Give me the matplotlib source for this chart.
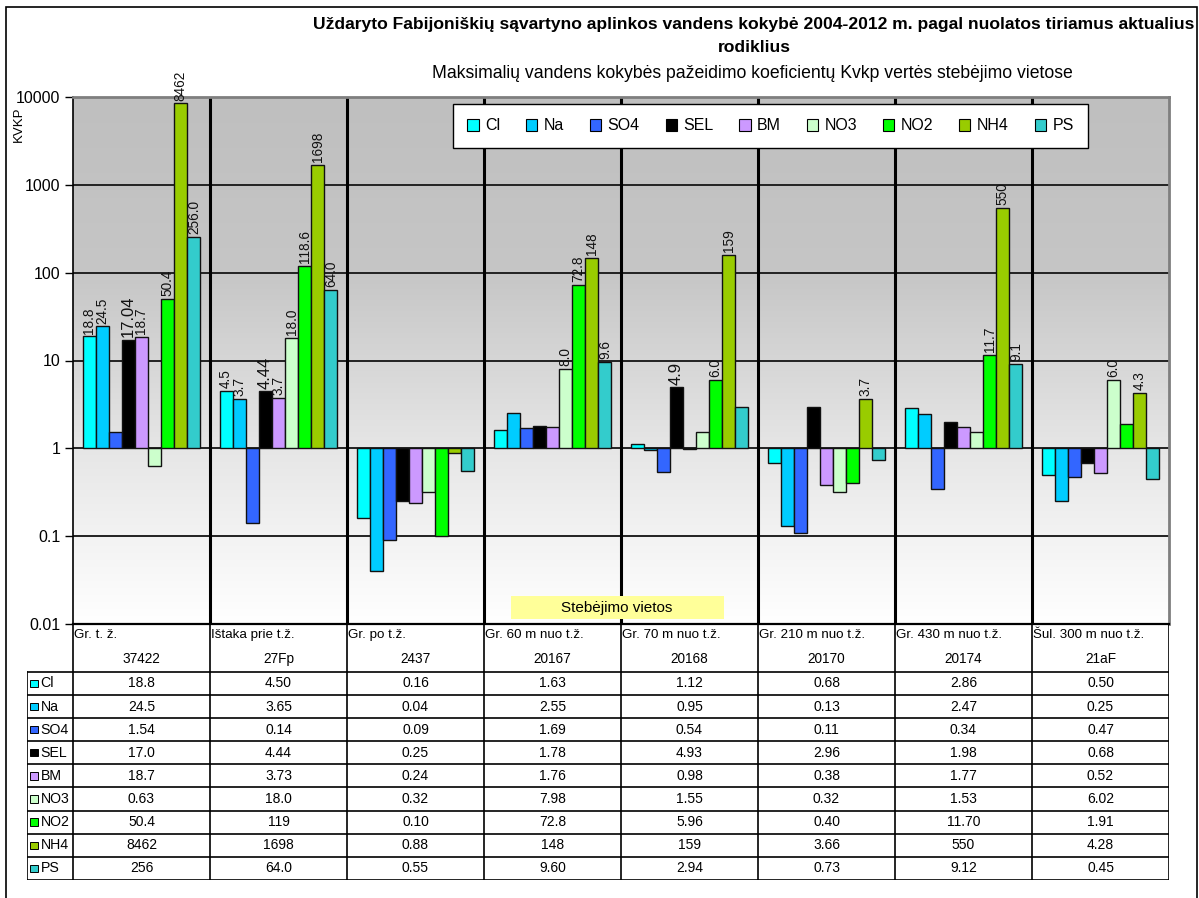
import numpy as np
import matplotlib
matplotlib.use('Agg')
import matplotlib.pyplot as plt
import matplotlib.patches as patches
from matplotlib.colors import LinearSegmentedColormap
from matplotlib.ticker import FixedLocator, FixedFormatter

plt.rcParams['font.family'] = ['Liberation Sans', 'DejaVu Sans']

# ---------------- data ----------------
sites = ['Gr. t. ž.', 'Ištaka prie t.ž.', 'Gr. po t.ž.', 'Gr. 60 m nuo t.ž.',
         'Gr. 70 m nuo t.ž.', 'Gr. 210 m nuo t.ž.', 'Gr. 430 m nuo t.ž.',
         'Šul. 300 m nuo t.ž.']
codes = ['37422', '27Fp', '2437', '20167', '20168', '20170', '20174', '21aF']
series = ['Cl', 'Na', 'SO4', 'SEL', 'BM', 'NO3', 'NO2', 'NH4', 'PS']
colors = ['#00FFFF', '#00CCFF', '#3366FF', '#000000', '#CC99FF',
          '#CCFFCC', '#00FF00', '#99CC00', '#33CCCC']

cl  = [18.8, 4.50, 0.16, 1.63, 1.12, 0.68, 2.86, 0.50]
na  = [24.5, 3.65, 0.04, 2.55, 0.95, 0.13, 2.47, 0.25]
so4 = [1.54, 0.14, 0.09, 1.69, 0.54, 0.11, 0.34, 0.47]
sel = [17.04, 4.44, 0.25, 1.78, 4.93, 2.96, 1.98, 0.68]
bm  = [18.7, 3.73, 0.24, 1.76, 0.98, 0.38, 1.77, 0.52]
no3 = [0.63, 18.0, 0.32, 7.98, 1.55, 0.32, 1.53, 6.02]
no2 = [50.4, 118.6, 0.10, 72.8, 5.96, 0.40, 11.70, 1.91]
nh4 = [8462, 1698, 0.88, 148, 159, 3.66, 550, 4.28]
ps  = [256, 64.0, 0.55, 9.60, 2.94, 0.73, 9.12, 0.45]
values = [cl, na, so4, sel, bm, no3, no2, nh4, ps]

# text shown in the data table
tab_cl  = ['18.8', '4.50', '0.16', '1.63', '1.12', '0.68', '2.86', '0.50']
tab_na  = ['24.5', '3.65', '0.04', '2.55', '0.95', '0.13', '2.47', '0.25']
tab_so4 = ['1.54', '0.14', '0.09', '1.69', '0.54', '0.11', '0.34', '0.47']
tab_sel = ['17.0', '4.44', '0.25', '1.78', '4.93', '2.96', '1.98', '0.68']
tab_bm  = ['18.7', '3.73', '0.24', '1.76', '0.98', '0.38', '1.77', '0.52']
tab_no3 = ['0.63', '18.0', '0.32', '7.98', '1.55', '0.32', '1.53', '6.02']
tab_no2 = ['50.4', '119', '0.10', '72.8', '5.96', '0.40', '11.70', '1.91']
tab_nh4 = ['8462', '1698', '0.88', '148', '159', '3.66', '550', '4.28']
tab_ps  = ['256', '64.0', '0.55', '9.60', '2.94', '0.73', '9.12', '0.45']
table_text = [tab_cl, tab_na, tab_so4, tab_sel, tab_bm, tab_no3, tab_no2, tab_nh4, tab_ps]

# data labels written over some of the bars
lab_cl  = ['18.8', '4.5', None, None, None, None, None, None]
lab_na  = ['24.5', '3.7', None, None, None, None, None, None]
lab_so4 = [None] * 8
lab_sel = ['17.04', '4.44', None, None, '4.9', None, None, None]
lab_bm  = ['18.7', '3.7', None, None, None, None, None, None]
lab_no3 = [None, '18.0', None, '8.0', None, None, None, '6.0']
lab_no2 = ['50.4', '118.6', None, '72.8', '6.0', None, '11.7', None]
lab_nh4 = ['8462', '1698', None, '148', '159', '3.7', '550', '4.3']
lab_ps  = ['256.0', '64.0', None, '9.6', None, None, '9.1', None]
bar_labels = [lab_cl, lab_na, lab_so4, lab_sel, lab_bm, lab_no3, lab_no2, lab_nh4, lab_ps]

yticks = [0.01, 0.1, 1, 10, 100, 1000, 10000]
ytick_labels = ['0.01', '0.1', '1', '10', '100', '1000', '10000']

# ---------------- layout ----------------
W, H = 1199, 898
def fx(px):
    return px / W
def fy(py):
    return 1 - py / H

fig = plt.figure(figsize=(W / 100, H / 100), dpi=100)
fig.patch.set_facecolor('white')

# outer frame
fig.add_artist(patches.Rectangle((fx(6), -0.02), fx(1197) - fx(6), fy(7) + 0.02,
                                 transform=fig.transFigure, fill=False,
                                 edgecolor='black', linewidth=1.2))

ax = fig.add_axes([fx(73), fy(624), fx(1169) - fx(73), fy(97) - fy(624)])
ngroups = len(sites)
nser = len(series)
x = np.arange(ngroups)
bw = 0.0957

# background gradient (dark at top, white at bottom)
cmap = LinearSegmentedColormap.from_list('bg', ['#BFBFBF', '#C6C6C6', '#E6E6E6', '#FFFFFF'])
grad = np.linspace(0, 1, 256).reshape(-1, 1)
ax.imshow(grad, cmap=cmap, aspect='auto', extent=[0, 1, 0, 1], origin='upper',
          transform=ax.transAxes, zorder=0)

ax.set_yscale('log')
ax.set_ylim(0.01, 10000)
ax.set_xlim(-0.5, ngroups - 0.5)

for d in yticks[1:-1]:
    ax.axhline(d, color='#222222', linewidth=1.4, zorder=1)
for i in range(ngroups - 1):
    ax.axvline(i + 0.5, color='black', linewidth=2.2, zorder=1)

for s in range(nser):
    xs = x + (s - (nser - 1) / 2) * bw
    v = np.array(values[s])
    ax.bar(xs, v - 1, bottom=1, width=bw, color=colors[s], edgecolor='#111111',
           linewidth=1.0, zorder=3)
    for g in range(ngroups):
        lab = bar_labels[s][g]
        if lab is None:
            continue
        fs = 12 if series[s] == 'SEL' else 9.8
        ax.annotate(lab, (xs[g], v[g]), xytext=(0, 2), textcoords='offset points',
                    rotation=90, ha='center', va='bottom', fontsize=fs,
                    color='#111111', annotation_clip=False, zorder=4)

ax.yaxis.set_major_locator(FixedLocator(yticks))
ax.yaxis.set_major_formatter(FixedFormatter(ytick_labels))
ax.yaxis.set_minor_locator(FixedLocator([]))
ax.tick_params(axis='y', direction='out', length=6, width=1, labelsize=11.5, pad=3)
ax.set_xticks([])
for side in ['top', 'right']:
    ax.spines[side].set_color('#7F7F7F')
    ax.spines[side].set_linewidth(2)
ax.spines['left'].set_linewidth(1.2)
ax.spines['bottom'].set_linewidth(1.6)

fig.text(fx(19), fy(124), 'KVKP', rotation=90, ha='center', va='center', fontsize=9.5)

# titles
fig.text(fx(754), fy(25), 'Uždaryto Fabijoniškių sąvartyno aplinkos vandens kokybė 2004-2012 m. '
         'pagal nuolatos tiriamus aktualius', ha='center', va='center',
         fontsize=12.6, fontweight='bold')
fig.text(fx(754), fy(47), 'rodiklius', ha='center', va='center',
         fontsize=12.6, fontweight='bold')
fig.text(fx(752), fy(73), 'Maksimalių vandens kokybės pažeidimo koeficientų Kvkp vertės '
         'stebėjimo vietose', ha='center', va='center', fontsize=12.7)

# legend
handles = [patches.Patch(facecolor=c, edgecolor='black', linewidth=0.8) for c in colors]
leg = fig.legend(handles, series, ncol=9, loc='center',
                 bbox_to_anchor=(fx(453), fy(148), fx(1088) - fx(453), fy(104) - fy(148)),
                 mode='expand', frameon=True, fancybox=False, edgecolor='black',
                 handlelength=0.7, handleheight=0.7, handletextpad=0.4,
                 fontsize=11.5, borderaxespad=0, borderpad=0.9)
leg.get_frame().set_linewidth(1.0)
leg.get_frame().set_alpha(1)

# axis title box
fig.add_artist(patches.Rectangle((fx(511), fy(619)), fx(724) - fx(511), fy(596) - fy(619),
                                 transform=fig.transFigure, facecolor='#FFFF99',
                                 edgecolor='none', zorder=5))
fig.text(fx(617), fy(608), 'Stebėjimo vietos', ha='center', va='center',
         fontsize=11, zorder=6)

# ---------------- data table ----------------
key_w = 46 / 137
hdr = 47.7 / 23.07
tab = fig.add_axes([fx(27), fy(880), fx(1169) - fx(27), fy(624) - fy(880)])
tab.set_xlim(-0.5 - key_w, ngroups - 0.5)
tab.set_ylim(hdr + nser, 0)
tab.axis('off')

for i in range(ngroups + 1):
    tab.plot([i - 0.5, i - 0.5], [0, hdr + nser], color='black', linewidth=1.2)
tab.plot([-0.5 - key_w] * 2, [hdr, hdr + nser], color='black', linewidth=1.2)
for r in range(nser + 1):
    tab.plot([-0.5 - key_w, ngroups - 0.5], [hdr + r, hdr + r], color='black', linewidth=1.2)

for g in range(ngroups):
    tab.text(g - 0.49, 0.48, sites[g], ha='left', va='center', fontsize=9.6)
    tab.text(g, 1.52, codes[g], ha='center', va='center', fontsize=9.8)
for s in range(nser):
    yc = hdr + s + 0.5
    tab.add_patch(patches.Rectangle((-0.5 - key_w + 0.02, yc - 0.16), 0.058, 0.32,
                                    facecolor=colors[s], edgecolor='black', linewidth=0.7))
    tab.text(-0.5 - key_w + 0.1, yc, series[s], ha='left', va='center', fontsize=10.2)
    for g in range(ngroups):
        tab.text(g, yc, table_text[s][g], ha='center', va='center', fontsize=10)

plt.savefig('out.png', dpi=100)
